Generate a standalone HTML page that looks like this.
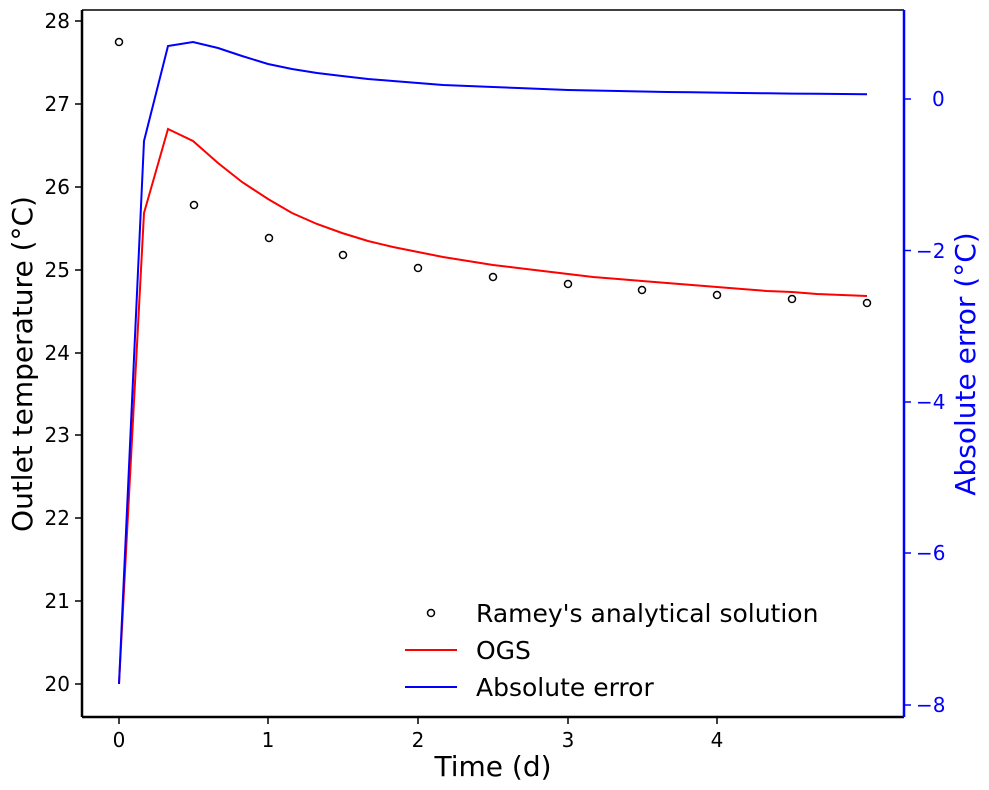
<!DOCTYPE html>
<html><head><meta charset="utf-8"><style>body{margin:0;background:#fff}svg{display:block}text{font-family:"DejaVu Sans","Liberation Sans",sans-serif}</style></head><body>
<svg width="989" height="790" xmlns="http://www.w3.org/2000/svg">
<rect width="989" height="790" fill="#fff"/>
<polyline fill="none" stroke="#ff0000" stroke-width="2" points="119,684 144,213 168,129 193,141 218,163 242,182 268,199 292,213 317,224 342,233 368,241 393,247 418,252 443,257 468,261 493,265 518,268 543,271 568,274 593,277 618,279 642,281 667,283 692,285 717,287 742,289 767,291 792,292 817,294 842,295 867,296"/>
<polyline fill="none" stroke="#0000ff" stroke-width="2" points="119,684 144,141 168,46 193,42 218,48 242,56 268,64 292,69 317,73 342,76 368,79 393,81 418,83 443,85 468,86 493,87 518,88 543,89 568,90 593,90.5 618,91 642,91.5 667,92 692,92.3 717,92.6 742,93 767,93.3 792,93.6 817,93.8 842,94 867,94.2"/>
<g fill="none" stroke="#000" stroke-width="1.5">
<circle cx="119" cy="42" r="3.5"/><circle cx="194" cy="205" r="3.5"/><circle cx="269" cy="238" r="3.5"/><circle cx="343" cy="255" r="3.5"/><circle cx="418" cy="268" r="3.5"/><circle cx="493" cy="277" r="3.5"/><circle cx="568" cy="284" r="3.5"/><circle cx="642" cy="290" r="3.5"/><circle cx="717" cy="295" r="3.5"/><circle cx="792" cy="299" r="3.5"/><circle cx="867" cy="303" r="3.5"/>
</g>
<line x1="82" y1="10" x2="904" y2="10" stroke="#000" stroke-width="1.5"/>
<line x1="82" y1="10" x2="82" y2="717" stroke="#000" stroke-width="2.5"/>
<line x1="82" y1="717" x2="904" y2="717" stroke="#000" stroke-width="2.5"/>
<line x1="904" y1="10" x2="904" y2="717" stroke="#0000ff" stroke-width="2.5"/>
<g stroke="#000" stroke-width="1.5">
<line x1="119" y1="717" x2="119" y2="724"/><line x1="268" y1="717" x2="268" y2="724"/><line x1="418" y1="717" x2="418" y2="724"/><line x1="568" y1="717" x2="568" y2="724"/><line x1="717" y1="717" x2="717" y2="724"/>
<line x1="75" y1="684" x2="82" y2="684"/><line x1="75" y1="601" x2="82" y2="601"/><line x1="75" y1="518" x2="82" y2="518"/><line x1="75" y1="435" x2="82" y2="435"/><line x1="75" y1="353" x2="82" y2="353"/><line x1="75" y1="270" x2="82" y2="270"/><line x1="75" y1="187" x2="82" y2="187"/><line x1="75" y1="104" x2="82" y2="104"/><line x1="75" y1="21" x2="82" y2="21"/>
</g>
<g stroke="#0000ff" stroke-width="1.5">
<line x1="904" y1="99" x2="911" y2="99"/><line x1="904" y1="250.5" x2="911" y2="250.5"/><line x1="904" y1="402" x2="911" y2="402"/><line x1="904" y1="553" x2="911" y2="553"/><line x1="904" y1="705" x2="911" y2="705"/>
</g>
<g font-size="20" text-anchor="middle">
<text x="119" y="747">0</text><text x="268" y="747">1</text><text x="418" y="747">2</text><text x="568" y="747">3</text><text x="717" y="747">4</text>
</g>
<g font-size="20" text-anchor="end">
<text x="70" y="691">20</text><text x="70" y="608">21</text><text x="70" y="525">22</text><text x="70" y="442">23</text><text x="70" y="360">24</text><text x="70" y="277">25</text><text x="70" y="194">26</text><text x="70" y="111">27</text><text x="70" y="28">28</text>
</g>
<g font-size="20" fill="#0000ff">
<text x="932" y="106">0</text><text x="916" y="258">−2</text><text x="916" y="409">−4</text><text x="916" y="560">−6</text><text x="916" y="712">−8</text>
</g>
<text x="493" y="776" font-size="28" text-anchor="middle">Time (d)</text>
<text transform="translate(32,364) rotate(-90)" font-size="28" text-anchor="middle">Outlet temperature (°C)</text>
<text transform="translate(975,364) rotate(-90)" font-size="28" text-anchor="middle" fill="#0000ff">Absolute error (°C)</text>
<circle cx="431" cy="613" r="3.5" fill="none" stroke="#000" stroke-width="1.5"/>
<line x1="405" y1="650" x2="457" y2="650" stroke="#ff0000" stroke-width="2"/>
<line x1="405" y1="687" x2="457" y2="687" stroke="#0000ff" stroke-width="2"/>
<g font-size="25"><text x="476" y="622">Ramey's analytical solution</text><text x="476" y="659">OGS</text><text x="476" y="696">Absolute error</text></g>
</svg>
</body></html>
